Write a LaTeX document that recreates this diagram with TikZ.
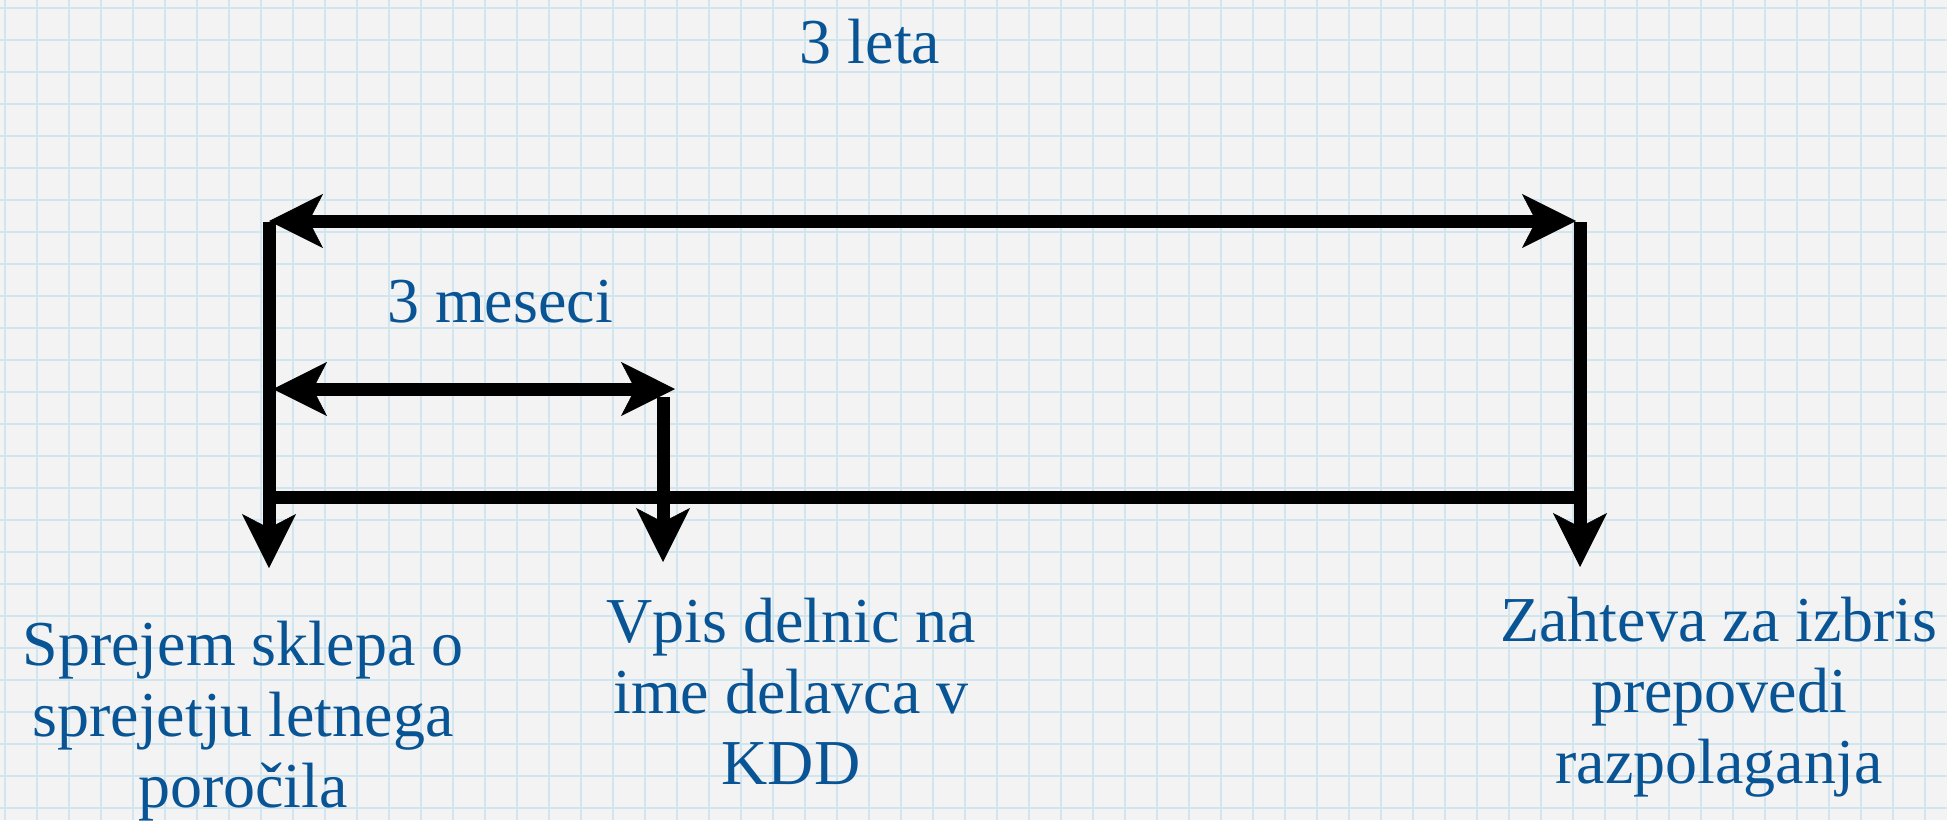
\documentclass[tikz,border=0pt]{standalone}
\usepackage{fontspec}
\setmainfont{Liberation Serif}
\usetikzlibrary{arrows.meta}
\definecolor{paper}{RGB}{243,243,243}
\definecolor{gridblue}{RGB}{208,229,237}
\definecolor{txtblue}{RGB}{8,84,148}
\tikzset{
  gridline/.style={draw=gridblue, line width=2pt},
  lbl/.style={font=\fontsize{64}{71}\selectfont, text=txtblue, inner sep=0pt, align=center, anchor=base},
  bar/.style={line width=13pt, line cap=butt, draw=black},
  >={Stealth[length=54pt,width=54pt,inset=14pt,line width=0.5pt]}
}
\begin{document}
\begin{tikzpicture}[x=1pt,y=-1pt]
  \fill[paper] (0,0) rectangle (1947,820);
  \useasboundingbox (0,0) rectangle (1947,820);
  \foreach \i in {0,...,60} \draw[gridline] ({5+32*\i},0) -- ({5+32*\i},820);
  \foreach \j in {0,...,25} \draw[gridline] (0,{8+32*\j}) -- (1947,{8+32*\j});

  % coordinates
  \coordinate (Ltop) at (269,222);
  \coordinate (Lbot) at (269,568);
  \coordinate (Rtop) at (1580,222);
  \coordinate (Rbot) at (1580,567);
  \coordinate (Ttipl) at (269,221);
  \coordinate (Ttipr) at (1576,221);
  \coordinate (Mtipl) at (273,389);
  \coordinate (Mtipr) at (675,389);
  \coordinate (Stop) at (663,397);
  \coordinate (Sbot) at (663,562);
  \coordinate (Bl) at (263,497);
  \coordinate (Br) at (1580,497);

  % connectors
  \draw[bar] (Bl) -- (Br);
  \draw[bar,->] (Ltop) -- (Lbot);
  \draw[bar,->] (Rtop) -- (Rbot);
  \draw[bar,->] (Stop) -- (Sbot);
  \draw[bar,<->] (Ttipl) -- (Ttipr);
  \draw[bar,<->] (Mtipl) -- (Mtipr);

  % labels (anchor base = baseline of the last line)
  \node[lbl] (leta) at (870,63) {3 leta};
  \node[lbl] (meseci) at (500,322) {3 meseci};
  \node[lbl] (sprejem) at (243,807) {Sprejem sklepa o\\sprejetju letnega\\poročila};
  \node[lbl] (vpis) at (791,784) {Vpis delnic na\\ime delavca v\\KDD};
  \node[lbl] (zahteva) at (1719,783) {Zahteva za izbris\\prepovedi\\razpolaganja};
\end{tikzpicture}
\end{document}
